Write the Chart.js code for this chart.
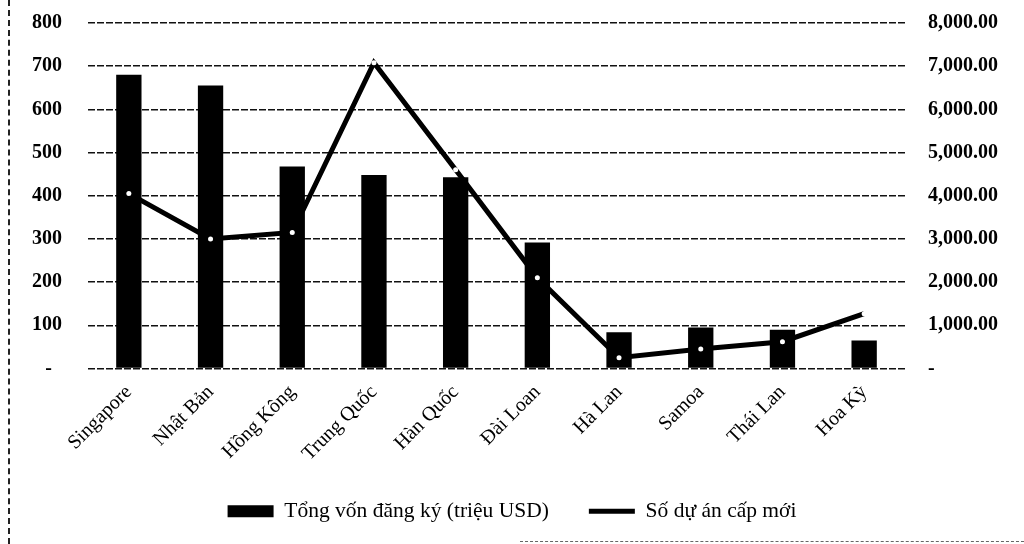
<!DOCTYPE html>
<html>
<head>
<meta charset="utf-8">
<script src="https://cdn.jsdelivr.net/npm/chart.js@4"></script>
<style>
  body { margin: 0; background: #fff; }
  #wrap { position: relative; width: 1024px; height: 544px; }
  #edgeL { position: absolute; left: 8px; top: 0; height: 544px; border-left: 2px dashed #222; }
  #edgeB { position: absolute; left: 520px; top: 541px; width: 504px; border-top: 1px dashed #666; }
</style>
</head>
<body>
<div id="wrap">
  <canvas id="chart" width="1024" height="544"></canvas>
  <div id="edgeL"></div>
  <div id="edgeB"></div>
</div>
<script>
var countries = [
  "Singapore",
  "Nhật Bản",
  "Hồng Kông",
  "Trung Quốc",
  "Hàn Quốc",
  "Đài Loan",
  "Hà Lan",
  "Samoa",
  "Thái Lan",
  "Hoa Kỳ",
];

// left axis (bars)
var tongVon = [680, 655, 468, 448, 443, 292, 84, 95, 90, 65];
// right axis (line)
var soDuAn = [4050, 3000, 3150, 7080, 4600, 2100, 250, 450, 620, 1270];

var leftTicks = [0, 100, 200, 300, 400, 500, 600, 700, 800];
var rightTicks = [0, 1000, 2000, 3000, 4000, 5000, 6000, 7000, 8000];

const serif = "'Liberation Serif', 'Times New Roman', serif";

var ctx = document.getElementById("chart").getContext("2d");

new Chart(ctx, {
  type: "bar",
  data: {
    labels: countries,
    datasets: [
      {
        type: "bar",
        label: "Tổng vốn đăng ký (triệu USD)",
        data: tongVon,
        yAxisID: "y",
        backgroundColor: "#000",
        barPercentage: 0.31,
        categoryPercentage: 1,
        order: 1,
      },
      {
        type: "line",
        label: "Số dự án cấp mới",
        data: soDuAn,
        yAxisID: "y1",
        borderColor: "#000",
        borderWidth: 5,
        pointRadius: 2.5,
        pointBackgroundColor: "#fff",
        pointBorderWidth: 0,
        tension: 0,
        order: 0,
      },
    ],
  },
  options: {
    responsive: false,
    animation: false,
    layout: { padding: { top: 23, left: 0, right: 0, bottom: 12 } },
    plugins: {
      tooltip: { enabled: false },
      legend: {
        position: "bottom",
        labels: {
          color: "#000",
          font: { family: serif, size: 21.5 },
          usePointStyle: true,
          pointStyleWidth: 46,
          boxHeight: 12,
          padding: 40,
          sort: function (a, b) {
            return a.datasetIndex - b.datasetIndex;
          },
          generateLabels: function (chart) {
            return chart.data.datasets.map(function (ds, i) {
              return {
                text: ds.label,
                datasetIndex: i,
                fillStyle: "#000",
                strokeStyle: "#000",
                lineWidth: ds.type === "line" ? 5 : 0,
                pointStyle: ds.type === "line" ? "line" : "rect",
                fontColor: "#000",
              };
            });
          },
        },
      },
    },
    scales: {
      x: {
        grid: { display: false },
        border: { display: false },
        ticks: {
          color: "#000",
          font: { family: serif, size: 20 },
          minRotation: 45,
          maxRotation: 45,
          padding: 4,
        },
        afterFit: function (scale) {
          scale.height = 92;
        },
      },
      y: {
        position: "left",
        min: 0,
        max: 800,
        afterBuildTicks: function (scale) {
          scale.ticks = leftTicks.map(function (v) { return { value: v }; });
        },
        grid: {
          color: "#111",
          lineWidth: 1.5,
          drawTicks: false,
        },
        border: { display: false, dash: [7, 2] },
        ticks: {
          color: "#000",
          font: { family: serif, size: 20, weight: "bold" },
          padding: 26,
          callback: function (v) {
            return v === 0 ? "-  " : v;
          },
        },
        afterFit: function (scale) {
          scale.width = 88;
          scale.paddingTop = 0;
          scale.paddingBottom = 0;
        },
      },
      y1: {
        position: "right",
        min: 0,
        max: 8000,
        afterBuildTicks: function (scale) {
          scale.ticks = rightTicks.map(function (v) { return { value: v }; });
        },
        grid: { display: false, drawTicks: false },
        border: { display: false },
        ticks: {
          color: "#000",
          font: { family: serif, size: 20, weight: "bold" },
          padding: 23,
          callback: function (v) {
            return v === 0
              ? "-"
              : v.toLocaleString("en-US", { minimumFractionDigits: 2, maximumFractionDigits: 2 });
          },
        },
        afterFit: function (scale) {
          scale.width = 119;
          scale.paddingTop = 0;
          scale.paddingBottom = 0;
        },
      },
    },
  },
});
</script>
</body>
</html>
